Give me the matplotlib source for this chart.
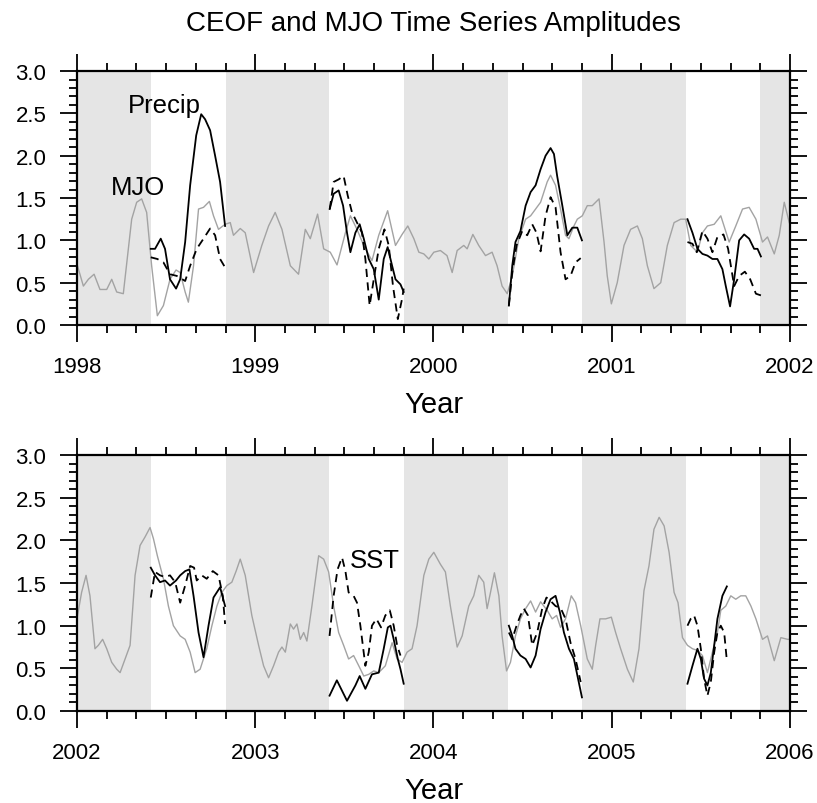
import matplotlib
matplotlib.use("Agg")
import matplotlib.pyplot as plt
from matplotlib.ticker import MultipleLocator, FormatStrFormatter

plt.rcParams["font.family"] = ["Liberation Sans", "DejaVu Sans"]

# MJO amplitude (continuous), decimal year / amplitude
mjo_top_t = [1998.000, 1998.036, 1998.064, 1998.096, 1998.129, 1998.167, 1998.195, 1998.223,
             1998.260, 1998.307, 1998.335, 1998.363, 1998.391, 1998.419, 1998.451, 1998.485,
             1998.522, 1998.556, 1998.579, 1998.607, 1998.625, 1998.654, 1998.682, 1998.710,
             1998.743, 1998.766, 1998.794, 1998.831, 1998.860, 1998.878, 1998.916, 1998.944,
             1998.991, 1999.037, 1999.075, 1999.112, 1999.150, 1999.197, 1999.243, 1999.281,
             1999.309, 1999.350, 1999.384, 1999.421, 1999.459, 1999.506, 1999.534, 1999.571,
             1999.609, 1999.655, 1999.693, 1999.743, 1999.787, 1999.824, 1999.856, 1999.890,
             1999.918, 1999.946, 1999.974, 2000.002,
             2000.039, 2000.076, 2000.105, 2000.133, 2000.170, 2000.189, 2000.221, 2000.254,
             2000.292, 2000.329, 2000.357, 2000.385, 2000.414, 2000.442, 2000.479, 2000.517,
             2000.545, 2000.573, 2000.601, 2000.638, 2000.657, 2000.685, 2000.713, 2000.741,
             2000.760, 2000.788, 2000.807, 2000.835, 2000.863, 2000.891, 2000.929, 2000.957,
             2000.975, 2000.998, 2001.031, 2001.069, 2001.106, 2001.144, 2001.172, 2001.200,
             2001.237, 2001.275, 2001.312, 2001.350, 2001.387, 2001.415, 2001.443, 2001.481,
             2001.509, 2001.537, 2001.575, 2001.612, 2001.659, 2001.696, 2001.734, 2001.771,
             2001.809, 2001.846, 2001.874, 2001.912, 2001.940, 2001.968, 2001.996]
mjo_top = [0.72, 0.46, 0.54, 0.60, 0.42, 0.42, 0.54, 0.39,
           0.37, 1.25, 1.45, 1.49, 1.33, 0.70, 0.11, 0.23,
           0.54, 0.65, 0.62, 0.39, 0.27, 0.70, 1.37, 1.39,
           1.46, 1.29, 1.13, 1.19, 1.21, 1.06, 1.14, 1.09,
           0.62, 0.94, 1.17, 1.33, 1.13, 0.70, 0.60, 1.13,
           1.02, 1.31, 0.90, 0.86, 0.71, 1.09, 1.29, 1.13,
           0.94, 0.76, 1.06, 1.35, 0.94, 1.07, 1.17, 1.02,
           0.86, 0.84, 0.78, 0.86,
           0.88, 0.82, 0.62, 0.88, 0.94, 0.90, 1.07, 0.94,
           0.82, 0.86, 0.70, 0.46, 0.37, 0.58, 1.02, 1.25,
           1.29, 1.37, 1.45, 1.69, 1.77, 1.65, 1.37, 1.06,
           1.02, 1.17, 1.25, 1.29, 1.41, 1.41, 1.49, 0.98,
           0.58, 0.25, 0.50, 0.94, 1.13, 1.17, 1.02, 0.70,
           0.43, 0.50, 0.94, 1.21, 1.25, 1.25, 0.94, 0.86,
           1.09, 1.17, 1.19, 1.29, 0.98, 1.17, 1.37, 1.39,
           1.25, 0.98, 1.04, 0.84, 1.06, 1.45, 1.21]

mjo_bot_t = [2002.000, 2002.026, 2002.051, 2002.073, 2002.101, 2002.120, 2002.144, 2002.167,
             2002.195, 2002.223, 2002.242, 2002.270, 2002.298, 2002.326, 2002.354, 2002.382,
             2002.410, 2002.429, 2002.451, 2002.485, 2002.513, 2002.541, 2002.579, 2002.607,
             2002.635, 2002.663, 2002.691, 2002.728, 2002.757, 2002.785, 2002.813, 2002.841,
             2002.869, 2002.893, 2002.916, 2002.944, 2002.981, 2003.019, 2003.047, 2003.075,
             2003.103, 2003.131, 2003.150, 2003.169, 2003.197, 2003.215, 2003.234, 2003.253,
             2003.272, 2003.290, 2003.318, 2003.356, 2003.384, 2003.412, 2003.440, 2003.468,
             2003.496, 2003.524, 2003.552, 2003.581, 2003.609, 2003.637, 2003.665, 2003.693,
             2003.730, 2003.768, 2003.796, 2003.824, 2003.852, 2003.880, 2003.908, 2003.946,
             2003.974, 2004.002,
             2004.039, 2004.067, 2004.095, 2004.133, 2004.161, 2004.198, 2004.226, 2004.254,
             2004.282, 2004.301, 2004.320, 2004.342, 2004.367, 2004.385, 2004.410, 2004.432,
             2004.460, 2004.488, 2004.517, 2004.545, 2004.573, 2004.601, 2004.638, 2004.666,
             2004.691, 2004.713, 2004.741, 2004.773, 2004.797, 2004.826, 2004.863, 2004.891,
             2004.910, 2004.934, 2004.966, 2004.998, 2005.022, 2005.050, 2005.088, 2005.121,
             2005.153, 2005.181, 2005.209, 2005.237, 2005.266, 2005.294, 2005.322, 2005.350,
             2005.372, 2005.397, 2005.425, 2005.453, 2005.481, 2005.509, 2005.537, 2005.565,
             2005.593, 2005.612, 2005.640, 2005.668, 2005.696, 2005.724, 2005.752, 2005.781,
             2005.809, 2005.846, 2005.874, 2005.912, 2005.949, 2005.987, 2006.000]
mjo_bot = [1.08, 1.39, 1.59, 1.35, 0.73, 0.77, 0.84, 0.73,
           0.57, 0.49, 0.45, 0.61, 0.77, 1.59, 1.94, 2.04,
           2.15, 2.02, 1.82, 1.55, 1.23, 1.00, 0.88, 0.84,
           0.69, 0.45, 0.49, 0.73, 1.00, 1.23, 1.39, 1.47,
           1.51, 1.64, 1.78, 1.59, 1.12, 0.77, 0.53, 0.39,
           0.53, 0.69, 0.75, 0.69, 1.02, 0.96, 1.02, 0.84,
           0.92, 0.82, 1.23, 1.82, 1.78, 1.63, 1.23, 0.92,
           0.77, 0.61, 0.65, 0.53, 0.41, 0.43, 0.47, 0.45,
           0.53, 0.80, 0.61, 0.57, 0.69, 0.73, 1.00, 1.59,
           1.78, 1.86,
           1.72, 1.63, 1.23, 0.75, 0.88, 1.23, 1.35, 1.59,
           1.51, 1.20, 1.39, 1.62, 1.35, 0.88, 0.47, 0.57,
           0.88, 1.08, 1.20, 1.29, 1.16, 1.28, 1.18, 1.08,
           1.12, 0.98, 1.08, 1.35, 1.27, 1.00, 0.61, 0.49,
           0.77, 1.08, 1.08, 1.10, 0.92, 0.73, 0.49, 0.34,
           0.73, 1.41, 1.70, 2.13, 2.27, 2.17, 1.86, 1.39,
           1.27, 0.86, 0.77, 0.73, 0.71, 0.65, 0.45, 0.69,
           0.92, 1.18, 1.23, 1.35, 1.31, 1.35, 1.35, 1.23,
           1.08, 0.84, 0.88, 0.59, 0.86, 0.84, 0.84]

# Precip CEOF amplitude, one segment per Jun-Oct season
precip_1998_t = [1998.414, 1998.438, 1998.470, 1998.494, 1998.522, 1998.556, 1998.579, 1998.607,
                 1998.635, 1998.669, 1998.697, 1998.719, 1998.747, 1998.775, 1998.803, 1998.831]
precip_1998 = [0.90, 0.90, 1.02, 0.90, 0.54, 0.43, 0.54, 0.98,
               1.65, 2.24, 2.49, 2.43, 2.30, 2.00, 1.69, 1.17]
precip_1999_t = [1999.418, 1999.440, 1999.468, 1999.493, 1999.515, 1999.534, 1999.562, 1999.586,
                 1999.609, 1999.637, 1999.665, 1999.693, 1999.721, 1999.743, 1999.768, 1999.787,
                 1999.815, 1999.833]
precip_1999 = [1.37, 1.55, 1.59, 1.41, 1.09, 0.86, 1.09, 1.19,
               1.02, 0.78, 0.66, 0.30, 0.78, 0.92, 0.70, 0.54,
               0.48, 0.39]
precip_2000_t = [2000.423, 2000.442, 2000.460, 2000.488, 2000.517, 2000.545, 2000.573, 2000.601,
                 2000.629, 2000.657, 2000.676, 2000.694, 2000.723, 2000.751, 2000.779, 2000.807,
                 2000.833]
precip_2000 = [0.23, 0.70, 0.98, 1.11, 1.41, 1.57, 1.65, 1.84,
               2.00, 2.09, 2.02, 1.76, 1.41, 1.06, 1.15, 1.15,
               1.00]
precip_2001_t = [2001.425, 2001.453, 2001.481, 2001.509, 2001.537, 2001.565, 2001.593, 2001.621,
                 2001.640, 2001.664, 2001.687, 2001.715, 2001.743, 2001.771, 2001.799, 2001.818,
                 2001.837]
precip_2001 = [1.25, 1.09, 0.90, 0.84, 0.82, 0.78, 0.78, 0.66,
               0.46, 0.22, 0.54, 1.00, 1.07, 1.02, 0.90, 0.90,
               0.81]
precip_2002_t = [2002.414, 2002.438, 2002.466, 2002.494, 2002.522, 2002.556, 2002.579, 2002.607,
                 2002.631, 2002.654, 2002.682, 2002.710, 2002.738, 2002.766, 2002.803, 2002.831]
precip_2002 = [1.68, 1.59, 1.51, 1.53, 1.47, 1.53, 1.59, 1.64,
               1.66, 1.35, 0.92, 0.63, 1.00, 1.33, 1.45, 1.23]
precip_2003_t = [2003.417, 2003.458, 2003.515, 2003.562, 2003.586, 2003.618, 2003.655, 2003.693,
                 2003.721, 2003.744, 2003.759, 2003.777, 2003.800, 2003.815, 2003.833]
precip_2003 = [0.18, 0.36, 0.12, 0.30, 0.41, 0.26, 0.43, 0.45,
               0.73, 0.98, 1.00, 0.84, 0.61, 0.49, 0.32]
precip_2004_t = [2004.423, 2004.442, 2004.460, 2004.488, 2004.517, 2004.545, 2004.573, 2004.601,
                 2004.629, 2004.657, 2004.685, 2004.709, 2004.732, 2004.760, 2004.788, 2004.811,
                 2004.833]
precip_2004 = [1.00, 0.88, 0.73, 0.65, 0.61, 0.51, 0.65, 0.96,
               1.16, 1.31, 1.35, 1.16, 0.92, 0.73, 0.61, 0.38,
               0.16]
precip_2005_t = [2005.425, 2005.453, 2005.481, 2005.500, 2005.518, 2005.537, 2005.556, 2005.575,
                 2005.593, 2005.621, 2005.646]
precip_2005 = [0.32, 0.53, 0.73, 0.61, 0.38, 0.30, 0.45, 0.77,
               1.08, 1.35, 1.46]

# SST CEOF amplitude, same seasons
sst_1998_t = [1998.414, 1998.451, 1998.485, 1998.522, 1998.560, 1998.607, 1998.635, 1998.672,
              1998.710, 1998.747, 1998.775, 1998.803, 1998.831]
sst_1998 = [0.80, 0.78, 0.74, 0.60, 0.58, 0.52, 0.70, 0.90,
            1.02, 1.14, 1.06, 0.78, 0.68]
sst_1999_t = [1999.418, 1999.440, 1999.468, 1999.496, 1999.519, 1999.543, 1999.571, 1999.599,
              1999.618, 1999.642, 1999.665, 1999.693, 1999.725, 1999.749, 1999.773, 1999.800,
              1999.824, 1999.833]
sst_1999 = [1.37, 1.69, 1.72, 1.76, 1.53, 1.33, 1.21, 1.09,
            0.78, 0.23, 0.54, 0.90, 1.13, 0.94, 0.46, 0.07,
            0.31, 0.43]
sst_2000_t = [2000.423, 2000.442, 2000.466, 2000.498, 2000.526, 2000.554, 2000.578, 2000.601,
              2000.629, 2000.657, 2000.685, 2000.713, 2000.741, 2000.769, 2000.797, 2000.826]
sst_2000 = [0.23, 0.62, 0.94, 1.11, 1.06, 1.19, 1.09, 0.87,
            1.29, 1.51, 1.39, 0.86, 0.54, 0.58, 0.74, 0.79]
sst_2001_t = [2001.425, 2001.453, 2001.477, 2001.509, 2001.537, 2001.565, 2001.593, 2001.627,
              2001.653, 2001.687, 2001.715, 2001.747, 2001.777, 2001.809, 2001.837]
sst_2001 = [0.98, 0.96, 0.86, 1.11, 1.02, 0.86, 1.04, 1.07,
            0.90, 0.46, 0.58, 0.63, 0.54, 0.37, 0.35]
sst_2002_t = [2002.414, 2002.438, 2002.466, 2002.494, 2002.522, 2002.551, 2002.579, 2002.607,
              2002.635, 2002.657, 2002.672, 2002.700, 2002.728, 2002.762, 2002.794, 2002.818,
              2002.831]
sst_2002 = [1.33, 1.63, 1.59, 1.57, 1.59, 1.51, 1.27, 1.47,
            1.70, 1.68, 1.53, 1.59, 1.55, 1.64, 1.59, 1.35,
            1.02]
sst_2003_t = [2003.417, 2003.440, 2003.462, 2003.487, 2003.506, 2003.524, 2003.552, 2003.571,
              2003.590, 2003.618, 2003.637, 2003.655, 2003.680, 2003.706, 2003.730, 2003.755,
              2003.777, 2003.796, 2003.815]
sst_2003 = [0.88, 1.35, 1.66, 1.80, 1.64, 1.39, 1.35, 1.27,
            1.00, 0.53, 0.69, 1.00, 1.08, 0.98, 1.12, 1.18,
            1.00, 0.77, 0.65]
sst_2004_t = [2004.423, 2004.442, 2004.466, 2004.488, 2004.507, 2004.530, 2004.554, 2004.582,
              2004.610, 2004.634, 2004.657, 2004.685, 2004.713, 2004.741, 2004.769, 2004.797,
              2004.826]
sst_2004 = [0.92, 0.84, 1.00, 1.12, 1.20, 1.12, 0.77, 0.92,
            1.20, 1.33, 1.29, 1.23, 1.21, 1.08, 0.80, 0.61,
            0.34]
sst_2005_t = [2005.425, 2005.443, 2005.462, 2005.481, 2005.500, 2005.518, 2005.537, 2005.556,
              2005.575, 2005.593, 2005.612, 2005.631, 2005.646]
sst_2005 = [1.00, 1.08, 1.12, 1.00, 0.73, 0.38, 0.18, 0.34,
            0.69, 0.92, 1.00, 0.92, 0.59]

# Nov-May shading (fraction of year where the season starts/ends)
wet_end = 5 / 12      # 1 June
wet_start = 10 / 12   # 1 November

panels = [
    (1998, 2002, mjo_top_t, mjo_top,
     [(precip_1998_t, precip_1998), (precip_1999_t, precip_1999),
      (precip_2000_t, precip_2000), (precip_2001_t, precip_2001)],
     [(sst_1998_t, sst_1998), (sst_1999_t, sst_1999),
      (sst_2000_t, sst_2000), (sst_2001_t, sst_2001)]),
    (2002, 2006, mjo_bot_t, mjo_bot,
     [(precip_2002_t, precip_2002), (precip_2003_t, precip_2003),
      (precip_2004_t, precip_2004), (precip_2005_t, precip_2005)],
     [(sst_2002_t, sst_2002), (sst_2003_t, sst_2003),
      (sst_2004_t, sst_2004), (sst_2005_t, sst_2005)]),
]

fig = plt.figure(figsize=(8.17, 8.04), dpi=100)
ax_top = fig.add_axes([0.0942, 0.5945, 0.8727, 0.3159])
ax_bot = fig.add_axes([0.0942, 0.1144, 0.8727, 0.3184])

for ax, (y0, y1, mt, mv, prec, sst) in zip([ax_top, ax_bot], panels):
    for yr in range(y0 - 1, y1 + 1):
        ax.axvspan(yr + wet_start, yr + 1 + wet_end, color="#e5e5e5", lw=0, zorder=0)
    ax.plot(mt, mv, color="#a3a3a3", lw=1.0, zorder=2)
    for t, v in prec:
        ax.plot(t, v, color="black", lw=1.3, zorder=3)
    for t, v in sst:
        ax.plot(t, v, color="black", lw=1.3, dashes=(4.5, 3), zorder=3)

    ax.set_xlim(y0, y1)
    ax.set_ylim(0, 3)
    ax.xaxis.set_major_locator(MultipleLocator(1))
    ax.xaxis.set_minor_locator(MultipleLocator(1 / 6))
    ax.xaxis.set_major_formatter(FormatStrFormatter("%d"))
    ax.yaxis.set_major_locator(MultipleLocator(0.5))
    ax.yaxis.set_minor_locator(MultipleLocator(0.1))
    ax.yaxis.set_major_formatter(FormatStrFormatter("%.1f"))
    ax.tick_params(which="both", direction="out", top=True, right=True,
                   width=1.3, labelsize=16, pad=10)
    ax.tick_params(which="major", length=12)
    ax.tick_params(which="minor", length=6)
    for sp in ax.spines.values():
        sp.set_linewidth(1.6)
    ax.set_xlabel("Year", fontsize=21, labelpad=10)

ax_top.text(1998.49, 2.52, "Precip", fontsize=18.5, ha="center", va="baseline")
ax_top.text(1998.34, 1.55, "MJO", fontsize=18.5, ha="center", va="baseline")
ax_bot.text(2003.67, 1.69, "SST", fontsize=18.5, ha="center", va="baseline")

fig.text(0.530, 1 - 31 / 804, "CEOF and MJO Time Series Amplitudes",
         fontsize=20, ha="center", va="baseline")

fig.savefig("out.png", dpi=100)
